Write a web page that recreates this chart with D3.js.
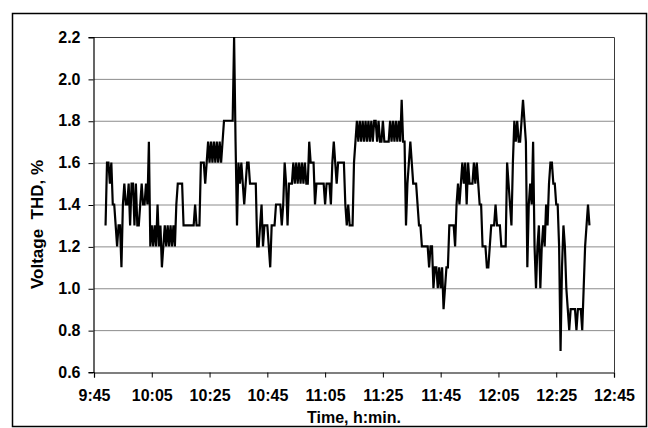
<!DOCTYPE html>
<html>
<head>
<meta charset="utf-8">
<script src="https://cdn.jsdelivr.net/npm/d3@7"></script>
<style>
  html, body { margin: 0; padding: 0; background: #fff; }
  svg { display: block; font-family: "Liberation Sans", Arial, sans-serif; font-weight: bold; }
</style>
</head>
<body>
<svg id="chart" width="648" height="428"></svg>
<script>
// Voltage THD recorded every 30 s, first sample at 9:49
const startTime = "9:49";
const stepSeconds = 30;
const thdValues = [
  1.3,1.6, 1.6,1.5, 1.6,1.4, 1.4,1.3, 1.2,1.3, 1.3,1.1, 1.4,1.5, 1.4,1.4, 1.5,1.3, 1.5,1.5,
  1.3,1.5, 1.3,1.3, 1.4,1.5, 1.4,1.4, 1.5,1.4, 1.7,1.2, 1.3,1.2, 1.3,1.2, 1.4,1.2, 1.3,1.1,
  1.2,1.3, 1.2,1.3, 1.2,1.3, 1.2,1.3, 1.2,1.4, 1.5,1.5, 1.5,1.5, 1.3,1.3, 1.3,1.3, 1.3,1.3,
  1.3,1.3, 1.4,1.3, 1.3,1.3, 1.6,1.6, 1.6,1.5, 1.6,1.7, 1.6,1.7, 1.6,1.7, 1.6,1.7, 1.6,1.7,
  1.6,1.7, 1.8,1.8, 1.8,1.8, 1.8,1.8, 1.8,2.2, 1.7,1.3, 1.6,1.5, 1.6,1.5, 1.4,1.5, 1.6,1.6,
  1.5,1.5, 1.5,1.5, 1.5,1.2, 1.2,1.3, 1.4,1.2, 1.3,1.3, 1.3,1.2, 1.1,1.3, 1.3,1.3, 1.4,1.4,
  1.4,1.4, 1.3,1.4, 1.6,1.5, 1.3,1.5, 1.5,1.5, 1.6,1.5, 1.6,1.5, 1.6,1.5, 1.6,1.5, 1.6,1.5,
  1.5,1.7, 1.6,1.6, 1.6,1.4, 1.5,1.5, 1.5,1.5, 1.5,1.5, 1.4,1.5, 1.5,1.5, 1.4,1.6, 1.7,1.6,
  1.5,1.6, 1.6,1.6, 1.6,1.6, 1.4,1.3, 1.4,1.3, 1.3,1.3, 1.6,1.7, 1.8,1.7, 1.8,1.7, 1.8,1.7,
  1.8,1.7, 1.8,1.7, 1.8,1.7, 1.8,1.8, 1.7,1.8, 1.7,1.7, 1.8,1.7, 1.7,1.7, 1.7,1.8, 1.7,1.8,
  1.7,1.8, 1.7,1.8, 1.7,1.9, 1.7,1.7, 1.3,1.5, 1.6,1.7, 1.6,1.5, 1.5,1.5, 1.4,1.3, 1.3,1.2,
  1.2,1.2, 1.2,1.2, 1.1,1.2, 1.2,1.0, 1.1,1.1, 1.0,1.1, 1.0,1.1, 0.9,1.0, 1.1,1.1, 1.3,1.3,
  1.3,1.3, 1.2,1.4, 1.5,1.4, 1.5,1.6, 1.5,1.6, 1.4,1.6, 1.5,1.5, 1.5,1.6, 1.5,1.6, 1.5,1.4,
  1.4,1.2, 1.2,1.2, 1.1,1.1, 1.2,1.3, 1.3,1.3, 1.4,1.3, 1.3,1.3, 1.2,1.2, 1.2,1.2, 1.6,1.5,
  1.4,1.3, 1.6,1.8, 1.7,1.8, 1.7,1.7, 1.8,1.9, 1.8,1.7, 1.1,1.4, 1.5,1.4, 1.7,1.2, 1.0,1.2,
  1.3,1.0, 1.2,1.3, 1.2,1.4, 1.3,1.5, 1.6,1.6, 1.5,1.5, 1.4,1.4, 1.2,0.7, 1.1,1.3, 1.2,1.0,
  0.9,0.8, 0.9,0.9, 0.9,0.9, 0.8,0.9, 0.9,0.9, 0.8,1.0, 1.2,1.3, 1.4,1.3
];
const xTickLabels = ["9:45","10:05","10:25","10:45","11:05","11:25","11:45","12:05","12:25","12:45"];
const yTickValues = [0.6, 0.8, 1.0, 1.2, 1.4, 1.6, 1.8, 2.0, 2.2];
const xTitle = "Time, h:min.";
const yTitle = "Voltage\u00a0\u00a0THD, %";

const parseHM = d3.timeParse("%H:%M");
const t0 = parseHM(startTime);
const series = thdValues.map((v, i) => ({ t: d3.timeSecond.offset(t0, i * stepSeconds), v }));
const xTicks = xTickLabels.map(parseHM);

const plot = { left: 94, right: 614, top: 37, bottom: 372 };
const svg = d3.select("#chart");

// outer chart frame
svg.append("rect")
  .attr("x", 12.5).attr("y", 13.5).attr("width", 634).attr("height", 413)
  .attr("fill", "#fff").attr("stroke", "#000").attr("stroke-width", 1.5);

const x = d3.scaleTime().domain([xTicks[0], xTicks[xTicks.length - 1]]).range([plot.left, plot.right]);
const y = d3.scaleLinear().domain([0.6, 2.2]).range([plot.bottom, plot.top]);

// horizontal gridlines
svg.append("g").selectAll("line")
  .data(yTickValues.slice(1, -1))
  .join("line")
  .attr("x1", plot.left).attr("x2", plot.right)
  .attr("y1", d => y(d) + 0.5).attr("y2", d => y(d) + 0.5)
  .attr("stroke", "#8c8c8c").attr("stroke-width", 1);

// plot frame (top and right)
svg.append("path")
  .attr("d", `M${plot.left},${plot.top + 0.5}H${plot.right + 0.5}V${plot.bottom}`)
  .attr("fill", "none").attr("stroke", "#3a3a3a").attr("stroke-width", 1);

// axes
const xAxis = d3.axisBottom(x)
  .tickValues(xTicks)
  .tickFormat((d, i) => xTickLabels[i])
  .tickSize(5).tickPadding(12);
const yAxis = d3.axisLeft(y)
  .tickValues(yTickValues)
  .tickFormat(d3.format(".1f"))
  .tickSize(5).tickPadding(8);

const gx = svg.append("g").attr("transform", `translate(0,${plot.bottom + 0.5})`).call(xAxis);
const gy = svg.append("g").attr("transform", `translate(${plot.left - 0.5},0)`).call(yAxis);

[gx, gy].forEach(g => {
  g.select(".domain").attr("stroke", "#000").attr("stroke-width", 1.2);
  g.selectAll(".tick line").attr("stroke", "#000");
  g.selectAll(".tick text")
    .attr("fill", "#000")
    .style("font-family", "'Liberation Sans', Arial, sans-serif")
    .style("font-weight", "bold")
    .style("font-size", "16px");
});
gy.selectAll(".tick line").attr("transform", "translate(0,0.5)");

// THD trace
const line = d3.line().x(d => x(d.t)).y(d => y(d.v));
svg.append("path")
  .datum(series)
  .attr("d", line)
  .attr("fill", "none")
  .attr("stroke", "#000")
  .attr("stroke-width", 2.2)
  .attr("stroke-linejoin", "miter")
  .attr("stroke-miterlimit", 3);

// axis titles
svg.append("text")
  .attr("x", (plot.left + plot.right) / 2).attr("y", 423)
  .attr("text-anchor", "middle")
  .style("font-size", "16px")
  .text(xTitle);

svg.append("text")
  .attr("transform", `translate(43,${(plot.top + plot.bottom) / 2 + 20}) rotate(-90)`)
  .attr("text-anchor", "middle")
  .style("font-size", "17px")
  .text(yTitle);
</script>
</body>
</html>
